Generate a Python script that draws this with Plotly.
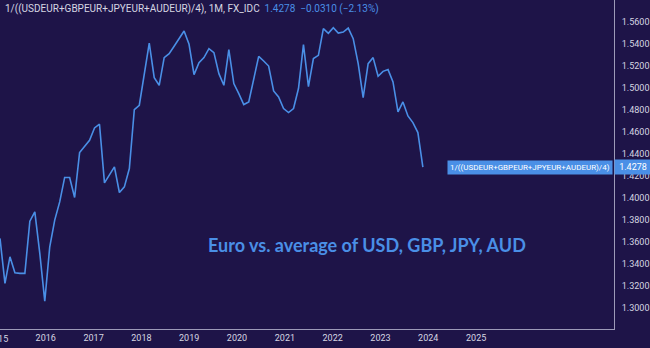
import pandas as pd
import plotly.graph_objects as go

# ---- data ----
values = [
    1.3628, 1.3219, 1.3461, 1.3315, 1.3310, 1.3310, 1.3786, 1.3870, 1.3492, 1.3057,
    1.3552, 1.3795, 1.3961, 1.4184, 1.4184, 1.4001, 1.4411, 1.4462, 1.4523, 1.4635,
    1.4669, 1.4134, 1.4214, 1.4280, 1.4047, 1.4098, 1.4265, 1.4803, 1.4842, 1.5124,
    1.5409, 1.5094, 1.5024, 1.5276, 1.5312, 1.5379, 1.5449, 1.5518, 1.5397, 1.5121,
    1.5230, 1.5276, 1.5358, 1.5321, 1.5130, 1.5024, 1.5349, 1.5039, 1.4948, 1.4848,
    1.4872, 1.5085, 1.5288, 1.5245, 1.5199, 1.4972, 1.4917, 1.4812, 1.4775, 1.4812,
    1.4994, 1.5394, 1.5012, 1.5267, 1.5297, 1.5540, 1.5497, 1.5549, 1.5500, 1.5509,
    1.5545, 1.5449, 1.5221, 1.4912, 1.5221, 1.5276, 1.5106, 1.5151, 1.5167, 1.5054,
    1.4781, 1.4872, 1.4744, 1.4684, 1.4593, 1.4278,
]
dates = pd.date_range("2015-01-17", periods=len(values), freq="38D")

x_tick_years = ["2016", "2017", "2018", "2019", "2020", "2021", "2022",
                "2023", "2024", "2025"]
y_ticks = [1.30, 1.32, 1.34, 1.36, 1.38, 1.40, 1.42, 1.44, 1.46, 1.48,
           1.50, 1.52, 1.54, 1.56, 1.58]
series_name = "1/((USDEUR+GBPEUR+JPYEUR+AUDEUR)/4)"
last_value = 1.4278
change_text = "\u22120.0310 (\u22122.13%)"
subtitle = "Euro vs. average of USD, GBP, JPY, AUD"

BG = "#1e1448"
LINE = "#4a8fe6"
AXIS = "#9d9ab8"
TXT = "#d6d6e2"

fig = go.Figure()
fig.add_trace(go.Scatter(x=dates, y=values, mode="lines",
                         line=dict(color=LINE, width=1.6),
                         hoverinfo="skip", showlegend=False))

fig.update_layout(
    width=650, height=348,
    margin=dict(l=0, r=36, t=0, b=19),
    paper_bgcolor=BG, plot_bgcolor=BG,
    font=dict(family="Roboto", color=TXT, size=9),
    xaxis=dict(type="date", range=["2015-01-17", "2027-11-20"],
               showgrid=False, zeroline=False, showline=True, linecolor=AXIS, linewidth=1,
               tickvals=[f"{y}-01-01" for y in x_tick_years], ticktext=x_tick_years,
               ticks="",
               tickfont=dict(size=9, color=TXT, family="Roboto")),
    yaxis=dict(side="right", range=[1.2803, 1.5801], tickvals=y_ticks,
               tickformat=".4f", showgrid=False, zeroline=False,
               showline=True, linecolor=AXIS, linewidth=1, ticks="",
               ticklabelstandoff=5,
               tickfont=dict(size=9, color=TXT, family="Roboto")),
)

# cut-off "2015" label at left edge
fig.add_annotation(xref="paper", yref="paper", x=-2/614, y=-10/329, text="2015",
                   showarrow=False, xanchor="center", yanchor="middle",
                   font=dict(size=9, color=TXT, family="Roboto"))

# header
fig.add_annotation(xref="paper", yref="paper", x=3/614, y=1 - 8.5/329,
                   xanchor="left", yanchor="middle", showarrow=False,
                   text=(f"{series_name}, 1M, FX_IDC  "
                         f"<span style='color:{LINE}'>{last_value:.4f}  {change_text}</span>"),
                   font=dict(size=10, color=TXT, family="Roboto"))

# price labels
fig.add_annotation(xref="paper", yref="y", x=1, y=last_value, xanchor="left",
                   yanchor="middle", showarrow=False, text=f"{last_value:.4f}",
                   bgcolor=LINE, borderpad=2, width=32,
                   font=dict(size=9, color="white", family="Roboto"))
fig.add_annotation(xref="paper", yref="y", x=1 - 1/614, y=last_value, xanchor="right",
                   yanchor="middle", showarrow=False, text=series_name,
                   bgcolor=LINE, borderpad=2,
                   font=dict(size=8, color="white", family="Roboto"))

# subtitle
fig.add_annotation(xref="paper", yref="paper", x=367/614, y=1 - 245/329,
                   xanchor="center", yanchor="middle", showarrow=False,
                   text=f"<b>{subtitle}</b>",
                   font=dict(size=18, color=LINE, family="Lato"))

fig.write_html("out.html")
